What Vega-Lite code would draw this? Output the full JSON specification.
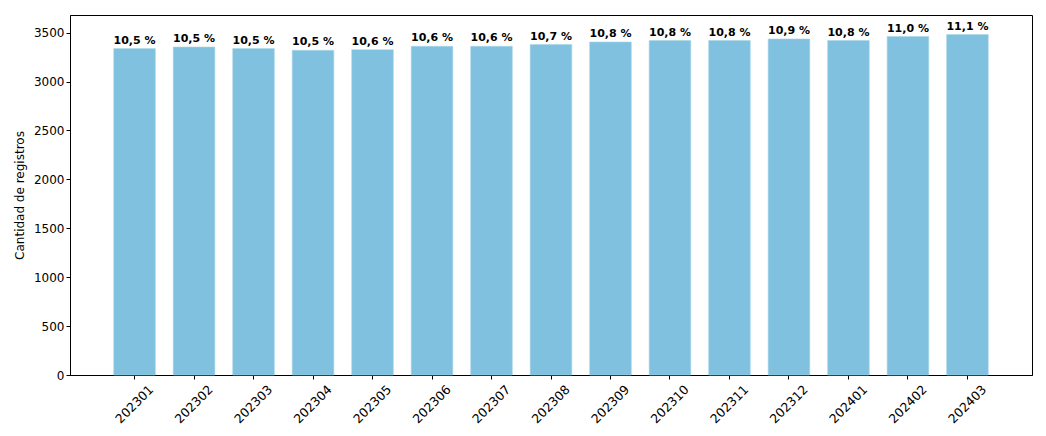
{
  "$schema": "https://vega.github.io/schema/vega-lite/v6.json",
  "width": 962,
  "height": 360,
  "autosize": "none",
  "padding": {"left": 70, "top": 15, "right": 14, "bottom": 61},
  "background": "white",
  "config": {
    "font": "DejaVu Sans",
    "view": {"stroke": "black", "strokeWidth": 1}
  },
  "data": {
    "values": [
      {"periodo": "202301", "registros": 3337, "pct": "10,5 %"},
      {"periodo": "202302", "registros": 3353, "pct": "10,5 %"},
      {"periodo": "202303", "registros": 3337, "pct": "10,5 %"},
      {"periodo": "202304", "registros": 3319, "pct": "10,5 %"},
      {"periodo": "202305", "registros": 3326, "pct": "10,6 %"},
      {"periodo": "202306", "registros": 3360, "pct": "10,6 %"},
      {"periodo": "202307", "registros": 3360, "pct": "10,6 %"},
      {"periodo": "202308", "registros": 3378, "pct": "10,7 %"},
      {"periodo": "202309", "registros": 3404, "pct": "10,8 %"},
      {"periodo": "202310", "registros": 3419, "pct": "10,8 %"},
      {"periodo": "202311", "registros": 3419, "pct": "10,8 %"},
      {"periodo": "202312", "registros": 3435, "pct": "10,9 %"},
      {"periodo": "202401", "registros": 3419, "pct": "10,8 %"},
      {"periodo": "202402", "registros": 3460, "pct": "11,0 %"},
      {"periodo": "202403", "registros": 3480, "pct": "11,1 %"}
    ]
  },
  "encoding": {
    "x": {
      "field": "periodo",
      "type": "ordinal",
      "sort": null,
      "scale": {"paddingInner": 0.3, "paddingOuter": 0.735},
      "axis": {
        "title": null,
        "labelAngle": -45,
        "labelAlign": "center",
        "labelBaseline": "middle",
        "labelFontSize": 12.5,
        "labelColor": "black",
        "labelPadding": 25,
        "tickColor": "black",
        "tickSize": 4,
        "domainColor": "black"
      }
    },
    "y": {
      "field": "registros",
      "type": "quantitative",
      "scale": {"domain": [0, 3680], "nice": false},
      "axis": {
        "title": "Cantidad de registros",
        "titleFontSize": 12,
        "titleFontWeight": "normal",
        "titleColor": "black",
        "titlePadding": 7,
        "values": [0, 500, 1000, 1500, 2000, 2500, 3000, 3500],
        "format": "d",
        "grid": false,
        "labelFontSize": 12,
        "labelColor": "black",
        "tickColor": "black",
        "tickSize": 4,
        "domainColor": "black"
      }
    }
  },
  "layer": [
    {
      "mark": {"type": "bar", "color": "#7fc1de", "stroke": "#a9d6ea", "strokeWidth": 0.6}
    },
    {
      "mark": {
        "type": "text",
        "baseline": "bottom",
        "dy": -3,
        "fontSize": 11,
        "fontWeight": "bold",
        "color": "black"
      },
      "encoding": {"text": {"field": "pct", "type": "nominal"}}
    }
  ]
}
